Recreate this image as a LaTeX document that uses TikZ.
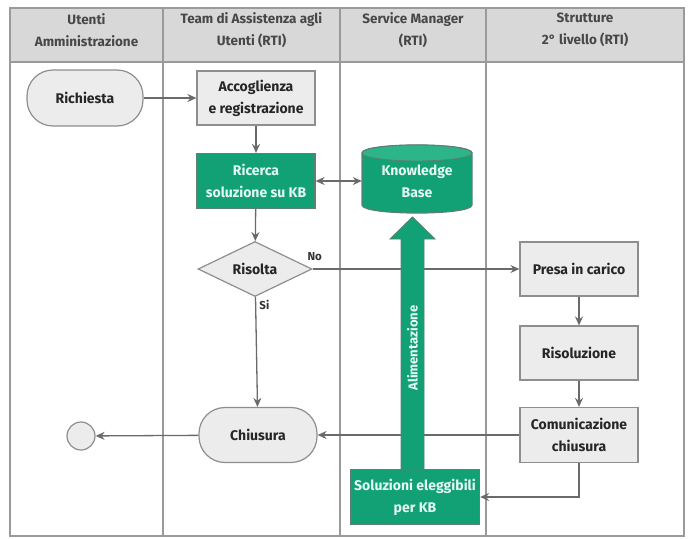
\documentclass[tikz,border=0pt]{standalone}
\usepackage{fontspec}
\setmainfont{Fira Sans}
\usetikzlibrary{arrows.meta,calc,shapes.geometric}

\definecolor{kbgreen}{HTML}{12A075}
\definecolor{kbtop}{HTML}{2DB58A}
\definecolor{greenline}{HTML}{5E7F74}
\definecolor{greentext}{HTML}{E4FBF3}
\definecolor{boxfill}{HTML}{ECECEC}
\definecolor{boxline}{HTML}{8E8E8E}
\definecolor{headfill}{HTML}{D8D8D8}
\definecolor{laneline}{HTML}{9A9A9A}
\definecolor{flowgray}{HTML}{6A6A6A}

\tikzset{
  lbl/.style={font=\bfseries\fontsize{14}{22}\selectfont, align=center, text=black!85},
  headtxt/.style={font=\bfseries\fontsize{13.5}{22}\selectfont, align=center, text=black!72},
  box/.style={lbl, draw=boxline, fill=boxfill, line width=1.2pt, minimum width=118pt, minimum height=55pt, inner sep=1pt},
  stadium/.style={box, rounded corners=26pt},
  greenbox/.style={lbl, draw=greenline, fill=kbgreen, text=greentext, line width=1.2pt, minimum width=118pt, minimum height=55pt, inner sep=1pt},
  decision/.style={lbl, diamond, draw=boxline, fill=boxfill, line width=1.2pt, aspect=2.07, minimum width=114pt, minimum height=55pt, inner sep=0pt},
  flow/.style={draw=flowgray, line width=1.3pt, -{Stealth[length=9pt,width=8pt,inset=3pt]}},
  flowboth/.style={flow, {Stealth[length=9pt,width=8pt,inset=3pt]}-{Stealth[length=9pt,width=8pt,inset=3pt]}},
  branch/.style={font=\bfseries\fontsize{11.5}{13}\selectfont, text=black!80},
}

\begin{document}
\begin{tikzpicture}[x=1pt,y=-1pt]
\useasboundingbox (0,0) rectangle (692,538);

% swimlane frame and header
\fill[headfill] (10,8) rectangle (684,62);
\draw[laneline, line width=1.6pt] (10,8) rectangle (684,536);
\draw[laneline, line width=1.6pt] (10,62) -- (684,62);
\foreach \lx in {163,340,486}
  \draw[laneline, line width=1.6pt] (\lx,8) -- (\lx,536);

\node[headtxt] (h1) at (86.5,30) {Utenti\\Amministrazione};
\node[headtxt] (h2) at (251.5,30) {Team di Assistenza agli\\Utenti (RTI)};
\node[headtxt] (h3) at (413,30) {Service Manager\\(RTI)};
\node[headtxt] (h4) at (585,30) {Strutture\\2° livello (RTI)};

% process steps
\node[stadium, minimum width=116pt, minimum height=56pt] (rich) at (85,98) {Richiesta};
\node[box, minimum height=54pt] (acc) at (256,98) {Accoglienza\\e registrazione};
\node[greenbox] (ric) at (256,181) {Ricerca\\soluzione su KB};
\node[decision] (ris) at (255,269) {Risolta};
\node[box, minimum height=54pt] (pres) at (579,269) {Presa in carico};
\node[box, minimum height=54pt] (riso) at (579,353) {Risoluzione};
\node[box] (com) at (579,435) {Comunicazione\\chiusura};
\node[stadium] (chi) at (258,435) {Chiusura};
\node[circle, draw=boxline, fill=boxfill, line width=1.2pt, minimum size=28pt, inner sep=0pt] (fine) at (81,436) {};
\node[greenbox, minimum width=129pt] (sol) at (415,497) {Soluzioni eleggibili\\per KB};

% knowledge base cylinder
\filldraw[fill=kbgreen, draw=greenline, line width=1.2pt]
  (362,153) -- (362,205) .. controls (362,215.7) and (472,215.7) .. (472,205)
  -- (472,153) .. controls (472,142.3) and (362,142.3) .. (362,153) -- cycle;
\filldraw[fill=kbtop, draw=greenline, line width=0.9pt] (417,153) ellipse [x radius=55, y radius=8];
\node[lbl, text=greentext, minimum width=110pt, minimum height=60pt, inner sep=0pt] (kb) at (417,181) {Knowledge\\Base};

% connectors
\draw[flow] (rich) -- (acc);
\draw[flow] (acc) -- (ric);
\draw[flowboth] (ric) -- (kb);
\draw[flow] (ric) -- (ris);
\draw[flow] (ris) -- node[branch, pos=0, above right, xshift=-9pt, yshift=4pt] {No} (pres);
\draw[flow] (ris) -- node[branch, pos=0, below right, xshift=0pt, yshift=1pt] {Si} (chi);
\draw[flow] (pres) -- (riso);
\draw[flow] (riso) -- (com);
\draw[flow] (com) -- (chi);
\draw[flow] (chi) -- (fine);
\draw[flow] (com.south) |- (sol.east);

% feeding arrow from eligible solutions up to the knowledge base
\filldraw[fill=kbgreen, draw=greenline, line width=0.9pt]
  (401,470) -- (401,239) -- (390,239) -- (412.5,217) -- (435,239) -- (424,239) -- (424,470) -- cycle;
\node[font=\bfseries\fontsize{13}{14}\selectfont, text=greentext, rotate=90] (alim) at (412.5,348) {Alimentazione};
\end{tikzpicture}
\end{document}
